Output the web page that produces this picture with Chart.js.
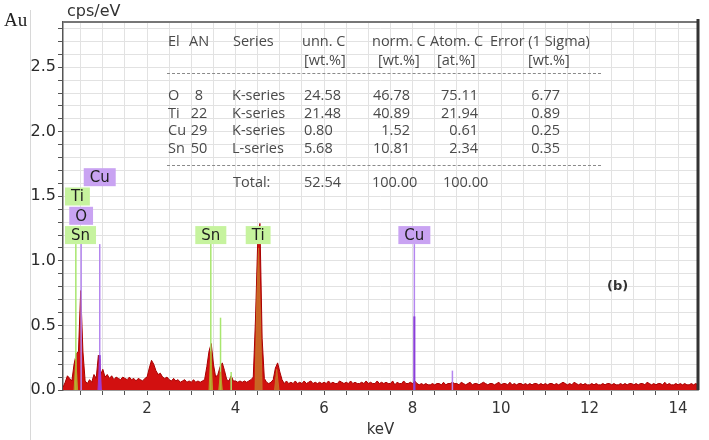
<!DOCTYPE html>
<html>
<head>
<meta charset="utf-8">
<script src="https://cdn.jsdelivr.net/npm/chart.js@4.4.1/dist/chart.umd.min.js"></script>
<style>
  body { margin: 0; background: #fff; }
  #wrap { position: relative; width: 709px; height: 440px; overflow: hidden; }
  #myChart { position: absolute; left: 0; top: 0; }
  .t { position: absolute; white-space: nowrap; font-family: "Open Sans", sans-serif; font-size: 14.5px; line-height: 18px; color: #4a4a4a; }
  .dash { position: absolute; left: 167px; width: 434px; border-top: 1px dashed #8a8a8a; }
  #unit { position: absolute; left: 67px; top: 1px; font: 16px "DejaVu Sans", sans-serif; color: #333; }
  #panel { position: absolute; left: 607px; top: 278px; font: bold 13px "DejaVu Sans", sans-serif; color: #333; }
  #au { position: absolute; left: 0; top: 9px; width: 30px; overflow: hidden; font: 19px "Liberation Serif", serif; color: #222; padding-left: 4px; box-sizing: border-box; }
  #edge { position: absolute; left: 30px; top: 10px; width: 1px; height: 430px; background: #d8d8d8; }
</style>
</head>
<body>
<div id="wrap">
  <canvas id="myChart" width="709" height="440"></canvas>
  <div id="au">Au</div>
  <div id="edge"></div>
  <div id="unit">cps/eV</div>
  <div id="panel">(b)</div>
</div>
<script>
// spectrum: one value every 0.05 keV starting at 0.10 keV
var startKeV = 0.10;
var stepKeV = 0.05;
var cps = [
  0.02,0.06,0.11,0.09,0.07,0.20,0.28,0.30,0.77,0.30,0.07,0.05,0.08,0.06,0.12,0.09,0.27,0.12,
  0.16,0.10,0.12,0.09,0.11,0.08,0.10,0.09,0.08,0.10,0.09,0.08,0.10,0.08,0.09,0.07,0.09,0.08,0.07,0.09,
  0.10,0.17,0.23,0.20,0.15,0.12,0.13,0.10,0.09,0.10,0.08,0.07,0.09,0.07,0.08,0.06,0.07,0.08,0.06,0.07,
  0.06,0.08,0.06,0.07,0.06,0.07,0.08,0.18,0.30,0.36,0.20,0.10,0.12,0.18,0.21,0.15,0.08,0.07,0.11,0.07,
  0.07,0.06,0.07,0.06,0.07,0.06,0.07,0.08,0.10,0.55,1.15,1.29,0.40,0.09,0.06,0.05,0.06,0.08,0.17,0.21,
  0.14,0.08,0.05,0.07,0.05,0.06,0.05,0.07,0.05,0.06,0.05,0.07,0.05,0.06,0.07,0.05,0.06,0.05,0.06,0.05,
  0.06,0.05,0.07,0.05,0.06,0.05,0.05,0.07,0.06,0.05,0.06,0.05,0.07,0.05,0.06,0.05,0.05,0.06,0.05,0.07,
  0.05,0.06,0.05,0.05,0.07,0.05,0.06,0.05,0.06,0.05,0.05,0.07,0.04,0.06,0.05,0.05,0.07,0.05,0.05,0.06,
  0.05,0.07,0.05,0.04,0.05,0.04,0.05,0.04,0.04,0.05,0.04,0.05,0.05,0.04,0.06,0.04,0.05,0.05,0.06,0.05,
  0.05,0.04,0.06,0.05,0.04,0.05,0.06,0.04,0.05,0.05,0.04,0.05,0.06,0.05,0.04,0.05,0.05,0.04,0.05,0.06,
  0.04,0.05,0.05,0.04,0.06,0.04,0.05,0.04,0.05,0.05,0.04,0.05,0.04,0.05,0.04,0.05,0.05,0.04,0.05,0.04,
  0.05,0.04,0.05,0.05,0.04,0.05,0.04,0.05,0.06,0.05,0.04,0.05,0.04,0.06,0.05,0.04,0.05,0.04,0.05,0.04,
  0.04,0.05,0.04,0.05,0.04,0.04,0.05,0.04,0.05,0.05,0.04,0.05,0.04,0.04,0.05,0.04,0.05,0.04,0.05,0.05,
  0.04,0.05,0.04,0.05,0.05,0.04,0.06,0.05,0.04,0.05,0.04,0.05,0.05,0.04,0.06,0.04,0.05,0.04,0.04,0.05,
  0.04,0.05,0.04,0.05,0.04,0.04,0.05,0.04,0.05,0.04
];

// element fits drawn over the spectrum (null = gap)
var tiFitKeV = [4.44, 4.48, 4.52, 4.56, 4.60, null, 4.88, 4.93, 4.98];
var tiFitCps = [0, 0.70, 1.10, 0.60, 0, null, 0, 0.16, 0];
var snFitKeV = [0.35, 0.39, 0.43, null, 3.40, 3.44, 3.48, null, 3.62, 3.66, 3.70];
var snFitCps = [0, 0.24, 0, null, 0, 0.30, 0, null, 0, 0.14, 0];
var cuFitKeV = [0.89, 0.93, 0.97];
var cuFitCps = [0, 0.24, 0];

// element line markers
var markerKeV = [0.39, 0.51, 0.93, 3.44, 3.66, 3.90, 8.04, 8.90];
var markerTop = [1.13, 1.13, 1.13, 1.13, 0.56, 0.14, 1.13, 0.15];
var markerElem = ['Sn', 'O', 'Cu', 'Sn', 'Sn', 'Sn', 'Cu', 'Cu'];
var cuPeakKeV = [0.93, 8.04];
var cuPeakTop = [0.27, 0.57];

// labels
var labelElem = ['Sn', 'O', 'Ti', 'Cu', 'Sn', 'Ti', 'Cu'];
var labelKeV = [0.39, 0.51, 0.40, 0.93, 3.44, 4.51, 8.04];
var labelTop = 1.13;
var labelStack = [0, 1, 2, 3, 0, 0, 0];

// quantification table
var tableElements = ['O', 'Ti', 'Cu', 'Sn'];
var tableAN = ['8', '22', '29', '50'];
var tableSeries = ['K-series', 'K-series', 'K-series', 'L-series'];
var tableUnnC = ['24.58', '21.48', '0.80', '5.68'];
var tableNormC = ['46.78', '40.89', '1.52', '10.81'];
var tableAtomC = ['75.11', '21.94', '0.61', '2.34'];
var tableError = ['6.77', '0.89', '0.25', '0.35'];
var tableTotal = ['Total:', '52.54', '100.00', '100.00'];

var lineColor = { Sn: '#a8e66e', Ti: '#a8e66e', O: '#b486ef', Cu: '#b486ef' };
var boxColor = { Sn: '#c6f39e', Ti: '#c6f39e', O: '#c9a3f2', Cu: '#c9a3f2' };

function pts(xs, ys) {
  return xs.map(function (v, i) { return v === null ? { x: null, y: null } : { x: v, y: ys[i] }; });
}

var spectrum = cps.map(function (v, i) { return { x: +(startKeV + i * stepKeV).toFixed(2), y: v }; });

var datasets = [
  { data: pts(tiFitKeV, tiFitCps), backgroundColor: 'rgba(200,115,40,0.85)', borderColor: 'rgba(200,115,40,0.9)', borderWidth: 1, fill: 'origin', pointRadius: 0, order: 0 },
  { data: pts(snFitKeV, snFitCps), backgroundColor: 'rgba(185,165,40,0.8)', borderColor: 'rgba(185,165,40,0.9)', borderWidth: 1, fill: 'origin', pointRadius: 0, order: 0 },
  { data: pts(cuFitKeV, cuFitCps), backgroundColor: 'rgba(160,60,210,0.8)', borderColor: 'rgba(160,60,210,0.9)', borderWidth: 1, fill: 'origin', pointRadius: 0, order: 0 }
];
cuPeakKeV.forEach(function (k, i) {
  datasets.push({ data: [{ x: k, y: 0 }, { x: k, y: cuPeakTop[i] }], borderColor: '#8a3fd8', borderWidth: 2, pointRadius: 0, fill: false, order: 0 });
});
markerKeV.forEach(function (k, i) {
  datasets.push({ data: [{ x: k, y: 0 }, { x: k, y: markerTop[i] }], borderColor: lineColor[markerElem[i]], borderWidth: 1.5, pointRadius: 0, fill: false, order: 1 });
});
datasets.push({ data: spectrum, backgroundColor: '#d21010', borderColor: '#a80000', borderWidth: 1, fill: 'origin', pointRadius: 0, order: 2 });

var frame = {
  id: 'frame',
  afterDatasetsDraw: function (chart) {
    var ctx = chart.ctx, a = chart.chartArea, xs = chart.scales.x, ys = chart.scales.y;
    ctx.save();
    ctx.font = '15px "DejaVu Sans"';
    ctx.textAlign = 'center';
    ctx.textBaseline = 'middle';
    labelElem.forEach(function (el, i) {
      var w = ctx.measureText(el).width + 12, h = 18;
      var cx = xs.getPixelForValue(labelKeV[i]);
      var left = Math.max(a.left + 2, cx - w / 2);
      var bottom = ys.getPixelForValue(labelTop) - labelStack[i] * 19.3;
      ctx.fillStyle = boxColor[el];
      ctx.fillRect(left, bottom - h, w, h);
      ctx.fillStyle = '#1e1e1e';
      ctx.fillText(el, left + w / 2, bottom - h / 2 + 1);
    });
    ctx.lineWidth = 2;
    ctx.strokeStyle = '#777';
    ctx.beginPath(); ctx.moveTo(a.left, a.top); ctx.lineTo(a.right, a.top); ctx.stroke();
    ctx.lineWidth = 3;
    ctx.strokeStyle = '#333';
    ctx.beginPath(); ctx.moveTo(a.right, a.top - 3); ctx.lineTo(a.right, a.bottom); ctx.stroke();
    ctx.restore();
  }
};

var ctx = document.getElementById('myChart').getContext('2d');
var myChart = new Chart(ctx, {
  type: 'line',
  data: { datasets: datasets },
  plugins: [frame],
  options: {
    responsive: false,
    animation: false,
    events: [],
    layout: { padding: { top: 22, right: 11, left: 0, bottom: 0 } },
    plugins: { legend: { display: false }, tooltip: { enabled: false } },
    scales: {
      x: {
        type: 'linear',
        min: 0.1,
        max: 14.45,
        afterBuildTicks: function (s) {
          s.ticks = [];
          for (var v = 0.5; v <= 14.45; v += 0.5) s.ticks.push({ value: v });
        },
        afterFit: function (s) { s.height = 50; },
        ticks: {
          autoSkip: false, maxRotation: 0, padding: 5,
          color: '#333', font: { family: 'DejaVu Sans', size: 15 },
          callback: function (v) { return v % 2 === 0 ? String(v) : ''; }
        },
        grid: { color: '#e2e2e2', tickColor: '#555', tickLength: 5 },
        border: { color: '#555', width: 1.5 },
        title: { display: true, text: 'keV', color: '#333', font: { family: 'DejaVu Sans', size: 15 }, padding: { top: 0, bottom: 1 } }
      },
      y: {
        min: 0,
        max: 2.85,
        afterBuildTicks: function (s) {
          s.ticks = [];
          for (var i = 0; i <= 28; i++) s.ticks.push({ value: i / 10 });
        },
        afterFit: function (s) { s.width = 63; },
        ticks: {
          autoSkip: false, padding: 2,
          color: '#2a2a2a', font: { family: 'DejaVu Sans', size: 16 },
          callback: function (v) { return Math.abs(v * 2 - Math.round(v * 2)) < 1e-9 ? v.toFixed(1) : ''; }
        },
        grid: { color: '#e2e2e2', tickColor: '#555', tickLength: 5 },
        border: { color: '#555', width: 1.5 }
      }
    }
  }
});

// table overlay
var wrap = document.getElementById('wrap');
function cell(text, x, yc, align) {
  var d = document.createElement('div');
  d.className = 't';
  d.textContent = text;
  d.style.top = (yc - 9) + 'px';
  if (align === 'right') d.style.right = (709 - x) + 'px';
  else if (align === 'center') { d.style.left = x + 'px'; d.style.transform = 'translateX(-50%)'; }
  else d.style.left = x + 'px';
  wrap.appendChild(d);
}
function dash(y) {
  var d = document.createElement('div');
  d.className = 'dash';
  d.style.top = y + 'px';
  wrap.appendChild(d);
}
var head1 = [['El', 168], ['AN', 189], ['Series', 233], ['unn. C', 302], ['norm. C', 372], ['Atom. C', 430], ['Error (1 Sigma)', 490]];
var head2 = [['[wt.%]', 304], ['[wt.%]', 378], ['[at.%]', 437], ['[wt.%]', 528]];
head1.forEach(function (h) { cell(h[0], h[1], 41, 'left'); });
head2.forEach(function (h) { cell(h[0], h[1], 60, 'left'); });
dash(73);
var rowY = [95, 112.5, 130, 147.5];
tableElements.forEach(function (el, i) {
  var y = rowY[i];
  cell(el, 168, y, 'left');
  cell(tableAN[i], 199, y, 'center');
  cell(tableSeries[i], 232, y, 'left');
  cell(tableUnnC[i], 304, y, 'left');
  cell(tableNormC[i], 410, y, 'right');
  cell(tableAtomC[i], 478, y, 'right');
  cell(tableError[i], 560, y, 'right');
});
dash(165);
var totalX = [233, 304, 372, 443];
tableTotal.forEach(function (t, i) { cell(t, totalX[i], 182, 'left'); });
</script>
</body>
</html>
